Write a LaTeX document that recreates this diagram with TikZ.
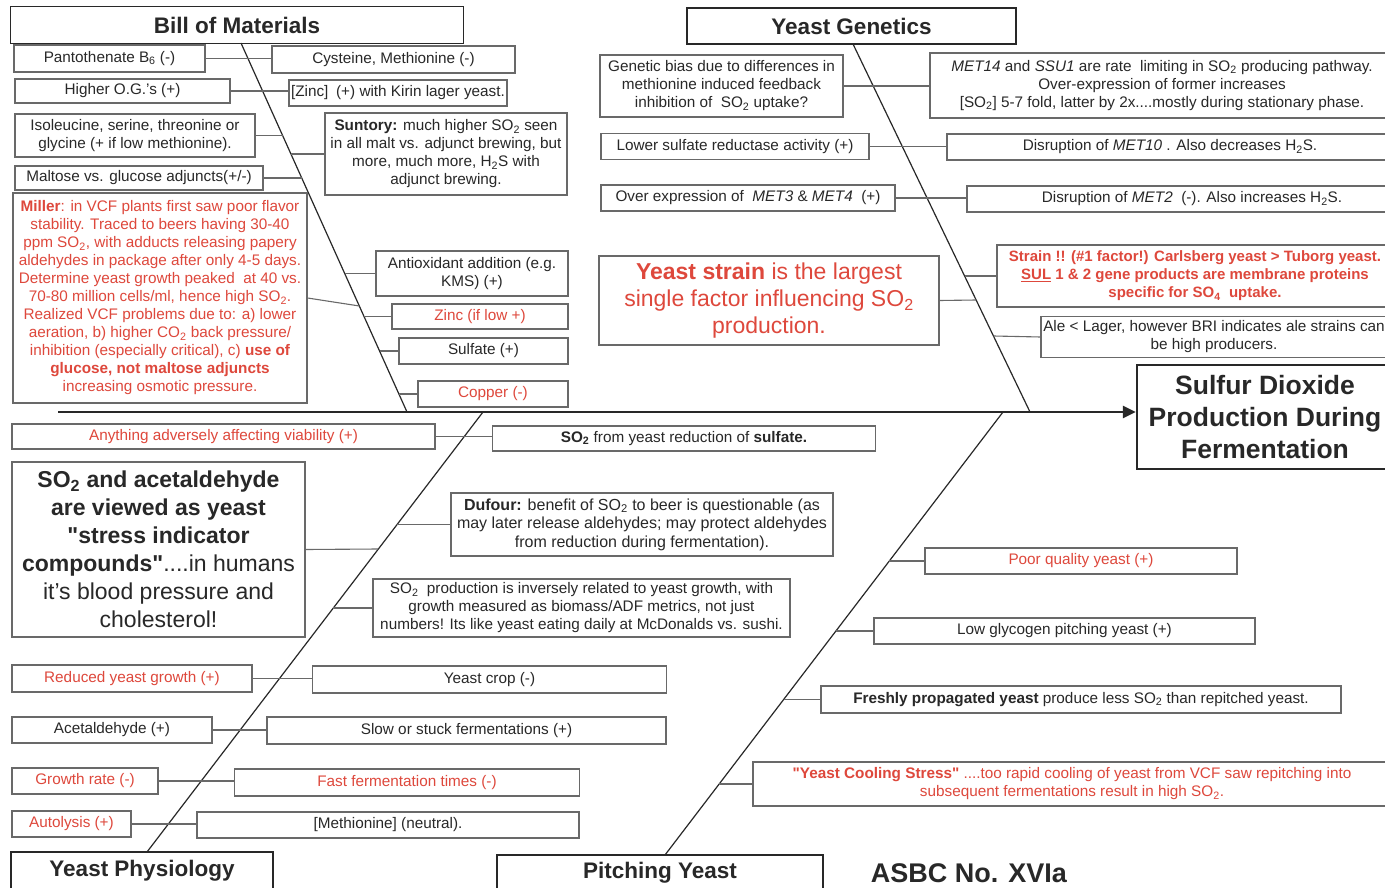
\documentclass[tikz,border=0pt]{standalone}
\usepackage{fontspec}
\setmainfont{Liberation Sans}
\usetikzlibrary{arrows.meta}
\definecolor{redtx}{RGB}{222,72,60}
\definecolor{ink}{RGB}{40,40,40}
\definecolor{edgegray}{RGB}{105,105,105}
\newcommand\myfs[2]{\fontsize{#1}{#2}\selectfont}
\newcommand\dq{\textquotedbl}
\tikzset{
  bx/.style={draw=edgegray, line width=1.1pt, inner xsep=1pt, inner ysep=1pt, align=center, text=ink, font=\myfs{15.3}{18}},
  rb/.style={bx, text=redtx},
  ttl/.style={draw=ink, line width=1.8pt, text=ink, font=\bfseries\myfs{22.5}{26}, inner sep=0pt},
  ln/.style={draw=edgegray, line width=1.1pt},
  sp/.style={draw=ink, line width=1.2pt},
  mainarrow/.style={draw=ink, line width=2.6pt, -{Triangle[length=13pt,width=12pt]}},
}
\begin{document}
\begin{tikzpicture}[x=1pt,y=-1pt]
\useasboundingbox (0,0) rectangle (1385,888);
\fill[white] (0,0) rectangle (1385,888);

% ---------------- Bill of Materials ----------------
\node[ttl, minimum width=453pt, minimum height=37pt] (bom) at (237,25) {Bill of Materials};
\coordinate (bT) at (241,43);
\coordinate (bB) at (407,412);
\draw[sp] (bT) -- (bB);

\node[bx, minimum width=191pt, minimum height=27pt] (pant) at (109.5,58.5) {Pantothenate B\textsubscript{6} (-)};
\node[bx, minimum width=243pt, minimum height=27pt] (cyst) at (393.5,59.5) {Cysteine, Methionine (-)};
\draw[ln] (pant.east) -- (pant.east -| cyst.west);

\node[bx, minimum width=215pt, minimum height=24pt] (og) at (122.5,91) {Higher O.G.'s (+)};
\node[bx, minimum width=218pt, minimum height=26pt] (znk) at (398,93) {[Zinc]\enspace(+) with Kirin lager yeast.};
\draw[ln] (og.east) -- (og.east -| znk.west);

\node[bx, minimum width=240pt, minimum height=43pt] (iso) at (135,135.5) {Isoleucine, serine, threonine or\\glycine (+ if low methionine).};
\coordinate (b1) at (282.9,135.5);
\draw[ln] (iso.east) -- (b1);

\node[bx, minimum width=248pt, minimum height=24pt] (malt) at (139,178) {Maltose vs. glucose adjuncts(+/-)};
\coordinate (b2) at (302.0,178);
\draw[ln] (malt.east) -- (b2);

\node[bx, minimum width=242pt, minimum height=82pt] (sunt) at (446,154) {\textbf{Suntory:} much higher SO\textsubscript{2} seen\\in all malt vs. adjunct brewing, but\\more, much more, H\textsubscript{2}S with\\adjunct brewing.};
\coordinate (b3) at (291.2,154);
\draw[ln] (b3) -- (sunt.west);

\node[rb, minimum width=294pt, minimum height=210pt] (miller) at (160,298) {\textbf{Miller}: in VCF plants first saw poor flavor\\stability. Traced to beers having 30-40\\ppm SO\textsubscript{2}, with adducts releasing papery\\aldehydes in package after only 4-5 days.\\Determine yeast growth peaked\ \ at 40 vs.\\70-80 million cells/ml, hence high SO\textsubscript{2}.\\Realized VCF problems due to: a) lower\\aeration, b) higher CO\textsubscript{2} back pressure/\\inhibition (especially critical), c) \textbf{use of}\\\textbf{glucose, not maltose adjuncts}\\increasing osmotic pressure.};
\coordinate (b4) at (359.4,306);
\draw[ln] (miller.east) -- (b4);

\node[bx, minimum width=192pt, minimum height=45pt] (antiox) at (472,273.5) {Antioxidant addition (e.g.\\KMS) (+)};
\coordinate (b5) at (344.9,273.5);
\draw[ln] (b5) -- (antiox.west);

\node[rb, minimum width=176pt, minimum height=25pt] (zincl) at (480,316.5) {Zinc (if low +)};
\coordinate (b6) at (364.1,316.5);
\draw[ln] (b6) -- (zincl.west);

\node[bx, minimum width=169pt, minimum height=26pt] (sulf) at (483.5,351) {Sulfate (+)};
\coordinate (b7) at (379.6,351);
\draw[ln] (b7) -- (sulf.west);

\node[rb, minimum width=150pt, minimum height=26pt] (copp) at (493,394) {Copper (-)};
\coordinate (b8) at (398.9,394);
\draw[ln] (b8) -- (copp.west);

% ---------------- Yeast Genetics ----------------
\node[ttl, minimum width=329pt, minimum height=36pt] (gen) at (851.5,26) {Yeast Genetics};
\coordinate (gT) at (853,44);
\coordinate (gB) at (1030,412);
\draw[sp] (gT) -- (gB);

\node[bx, minimum width=243pt, minimum height=62pt] (bias) at (721.5,86) {Genetic bias due to differences in\\methionine induced feedback\\inhibition of\ \ SO\textsubscript{2} uptake?};
\node[bx, minimum width=464pt, minimum height=65pt] (met14) at (1162,85.5) {\textit{MET14} and \textit{SSU1} are rate\ \ limiting in SO\textsubscript{2} producing pathway.\\Over-expression of former increases\\{[}SO\textsubscript{2}{]} 5-7 fold, latter by 2x....mostly during stationary phase.};
\draw[ln] (bias.east) -- (bias.east -| met14.west);

\node[bx, minimum width=268pt, minimum height=26pt] (lsr) at (735,146.5) {Lower sulfate reductase activity (+)};
\node[bx, minimum width=446pt, minimum height=26pt] (met10) at (1170,147) {Disruption of \textit{MET10} . Also decreases H\textsubscript{2}S.};
\draw[ln] (lsr.east) -- (lsr.east -| met10.west);

\node[bx, minimum width=294pt, minimum height=26pt] (oe) at (748,198) {Over expression of\ \ \textit{MET3} \& \textit{MET4}\ \ (+)};
\node[bx, minimum width=450pt, minimum height=26pt] (met2) at (1192,199) {Disruption of \textit{MET2}\ \ (-). Also increases H\textsubscript{2}S.};
\draw[ln] (oe.east) -- (oe.east -| met2.west);

\node[rb, minimum width=340pt, minimum height=89pt, font=\myfs{23}{27}] (ystrain) at (769,300.5) {\textbf{Yeast strain} is the largest\\single factor influencing SO\textsubscript{2}\\production.};
\coordinate (g1) at (976.1,300);
\draw[ln] (ystrain.east) -- (g1);

\node[rb, minimum width=396pt, minimum height=62pt, font=\bfseries\myfs{15}{18}] (strainx) at (1195,276) {Strain !! (\#1 factor!) Carlsberg yeast > Tuborg yeast.\\\underline{SUL} 1 \& 2 gene products are membrane proteins\\specific for SO\textsubscript{4}\ \ uptake.};
\coordinate (g2) at (964.6,276);
\draw[ln] (g2) -- (strainx.west);

\node[bx, minimum width=346pt, minimum height=41pt] (ale) at (1214,337) {Ale < Lager, however BRI indicates ale strains can\\be high producers.};
\coordinate (g3) at (993.5,336);
\draw[ln] (g3) -- (ale.west);

% ---------------- Effect ----------------
\node[draw=ink, line width=2.2pt, minimum width=256pt, minimum height=104pt, align=center, text=ink, font=\bfseries\myfs{26.5}{32}, inner sep=0pt] (sulfur) at (1265,417) {Sulfur Dioxide\\Production During\\Fermentation};
\coordinate (tail) at (58,412);
\draw[mainarrow] (tail) -- (tail -| sulfur.west);

% ---------------- Yeast Physiology ----------------
\node[ttl, minimum width=262pt, minimum height=38pt] (phys) at (142,871) {Yeast Physiology};
\coordinate (pT) at (483,412);
\coordinate (pB) at (147,852);
\draw[sp] (pB) -- (pT);

\node[rb, minimum width=423pt, minimum height=25pt] (any) at (223.5,436.5) {Anything adversely affecting viability (+)};
\node[bx, minimum width=383pt, minimum height=25pt] (so2red) at (684,438.5) {\textbf{SO\textsubscript{2}} from yeast reduction of \textbf{sulfate.}};
\draw[ln] (any.east) -- (any.east -| so2red.west);

\node[bx, minimum width=293pt, minimum height=175pt, font=\myfs{23}{28}] (so2acet) at (158.5,549.5) {\textbf{SO\textsubscript{2} and acetaldehyde}\\\textbf{are viewed as yeast}\\\textbf{\dq stress indicator}\\\textbf{compounds\dq}....in humans\\it's blood pressure and\\cholesterol!};
\coordinate (p1) at (378.4,549);
\draw[ln] (so2acet.east) -- (p1);

\node[bx, minimum width=382pt, minimum height=63pt, font=\myfs{16}{18.5}] (dufour) at (642,524.5) {\textbf{Dufour:} benefit of SO\textsubscript{2} to beer is questionable (as\\may later release aldehydes; may protect aldehydes\\from reduction during fermentation).};
\coordinate (p2) at (397.1,524.5);
\draw[ln] (p2) -- (dufour.west);

\node[bx, minimum width=417pt, minimum height=58pt] (so2prod) at (581.5,608) {SO\textsubscript{2}\ \ production is inversely related to yeast growth, with\\growth measured as biomass/ADF metrics, not just\\numbers! Its like yeast eating daily at McDonalds vs. sushi.};
\coordinate (p3) at (333.3,608);
\draw[ln] (p3) -- (so2prod.west);

\node[rb, minimum width=240pt, minimum height=27pt] (redg) at (132,678.5) {Reduced yeast growth (+)};
\node[bx, minimum width=354pt, minimum height=27pt] (crop) at (489.5,679.5) {Yeast crop (-)};
\draw[ln] (redg.east) -- (redg.east -| crop.west);

\node[bx, minimum width=200pt, minimum height=26pt] (acet) at (112,730) {Acetaldehyde (+)};
\node[bx, minimum width=399pt, minimum height=27pt] (slow) at (466.5,730.5) {Slow or stuck fermentations (+)};
\draw[ln] (acet.east) -- (acet.east -| slow.west);

\node[rb, minimum width=146pt, minimum height=26pt] (grate) at (85,781) {Growth rate (-)};
\node[rb, minimum width=345pt, minimum height=27pt] (fast) at (407,782.5) {Fast fermentation times (-)};
\draw[ln] (grate.east) -- (grate.east -| fast.west);

\node[rb, minimum width=119pt, minimum height=26pt] (auto) at (71.5,824) {Autolysis (+)};
\node[bx, minimum width=382pt, minimum height=26pt] (meth) at (388,825) {[Methionine] (neutral).};
\draw[ln] (auto.east) -- (auto.east -| meth.west);

% ---------------- Pitching Yeast ----------------
\node[ttl, minimum width=326pt, minimum height=36pt] (pitch) at (660,873) {Pitching Yeast};
\coordinate (qT) at (1003,412);
\coordinate (qB) at (665,855);
\draw[sp] (qB) -- (qT);

\node[rb, minimum width=312pt, minimum height=26pt] (poor) at (1081,561) {Poor quality yeast (+)};
\coordinate (q1) at (889.3,561);
\draw[ln] (q1) -- (poor.west);

\node[bx, minimum width=381pt, minimum height=26pt] (lowg) at (1064.5,631) {Low glycogen pitching yeast (+)};
\coordinate (q2) at (835.9,631);
\draw[ln] (q2) -- (lowg.west);

\node[bx, minimum width=520pt, minimum height=27pt] (fresh) at (1081,699.5) {\textbf{Freshly propagated yeast} produce less SO\textsubscript{2} than repitched yeast.};
\coordinate (q3) at (783.6,699.5);
\draw[ln] (q3) -- (fresh.west);

\node[rb, minimum width=638pt, minimum height=44pt] (cool) at (1072,784) {\textbf{\dq Yeast Cooling Stress\dq} ....too rapid cooling of yeast from VCF saw repitching into\\subsequent fermentations result in high SO\textsubscript{2}.};
\coordinate (q4) at (719.2,784);
\draw[ln] (q4) -- (cool.west);

\node[text=ink, font=\bfseries\myfs{27}{30}, inner sep=0pt] (asbc) at (969,873) {ASBC No. XVIa};
\end{tikzpicture}
\end{document}
